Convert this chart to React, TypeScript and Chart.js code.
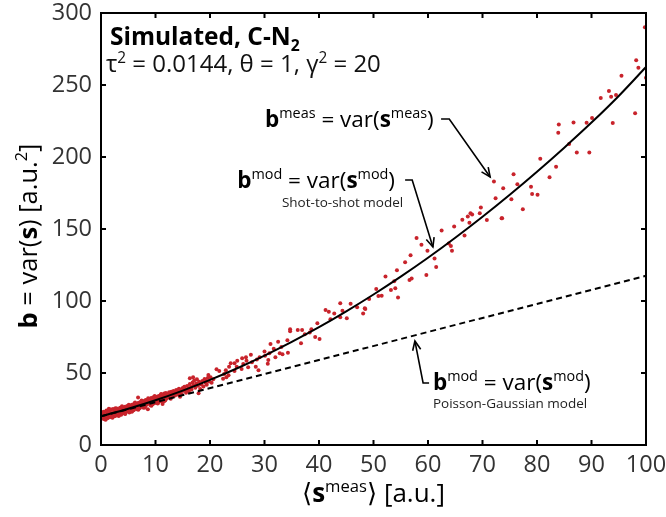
import React, { useEffect, useRef } from 'react';
import { Chart, registerables } from 'chart.js';

Chart.register(...registerables);

const FONT = '"Open Sans", "Noto Sans", "DejaVu Sans", sans-serif';
const RED = '#c8232b';

// tick labels
const xTickValues = [0, 10, 20, 30, 40, 50, 60, 70, 80, 90, 100];
const yTickValues = [0, 50, 100, 150, 200, 250, 300];

// measured points: <s_meas> and var(s_meas)
const meanMeas = [
  0.2, 0.3, 0.4, 0.5, 0.6, 0.7, 0.8, 0.9, 1.0, 1.1, 1.2, 1.3, 1.4, 1.5, 1.6, 1.7, 1.8, 1.9, 2.0, 2.1,
  2.2, 2.3, 2.4, 2.5, 2.6, 2.7, 2.8, 2.9, 3.0, 3.1, 3.2, 3.3, 3.4, 3.5, 3.6, 3.7, 3.8, 3.9, 4.0, 4.1,
  4.2, 4.3, 4.4, 4.5, 4.6, 4.7, 4.8, 4.9, 5.0, 5.2, 5.3, 5.4, 5.5, 5.6, 5.7, 5.8, 5.9, 6.0, 6.1, 6.2,
  6.3, 6.4, 6.5, 6.6, 6.7, 6.8, 6.9, 7.0, 7.1, 7.2, 7.3, 7.4, 7.5, 7.6, 7.7, 7.8, 7.9, 8.0, 8.1, 8.2,
  8.3, 8.4, 8.6, 8.7, 8.8, 8.9, 9.0, 9.1, 9.2, 9.3, 9.4, 9.5, 9.6, 9.7, 9.8, 9.9, 10.0, 10.2, 10.3, 10.4,
  10.5, 10.6, 10.7, 10.8, 10.9, 11.0, 11.1, 11.2, 11.3, 11.4, 11.5, 11.6, 11.7, 11.8, 11.9, 12.0, 12.1, 12.3, 12.4, 12.5,
  12.7, 12.8, 12.9, 13.0, 13.2, 13.3, 13.5, 13.6, 13.8, 13.9, 14.0, 14.2, 14.3, 14.5, 14.7, 14.8, 15.0, 15.1, 15.3, 15.5,
  15.6, 15.8, 16.0, 16.1, 16.3, 16.5, 16.6, 16.8, 17.0, 17.1, 17.3, 17.5, 17.6, 17.8, 18.0, 18.2, 18.4, 18.6, 18.8, 19.0,
  19.2, 19.4, 19.6, 19.8, 6.8, 11.3, 14.5, 16.3, 16.9, 17.9, 19.1, 19.7,
  0.35, 0.85, 1.45, 2.05, 2.65, 3.25, 3.85, 4.45, 5.1, 5.65, 6.25, 6.85, 7.45, 8.05, 8.65, 9.25, 9.85, 10.45, 11.05, 11.65,
  20.1, 20.3, 20.6, 21.2, 21.7, 22.4, 22.6, 22.9, 23.0, 23.4, 23.5, 23.8, 24.5, 24.5, 24.9, 25.0, 25.8, 25.9, 26.1, 26.6,
  26.7, 27.0, 27.5, 27.7, 28.4, 28.6, 28.9, 29.1, 30.0, 30.1, 30.6, 30.7, 30.9, 31.1, 31.7, 32.0, 32.5, 32.8, 33.1, 33.3,
  34.2, 34.3, 34.7, 34.7, 36.1, 36.7, 36.9, 37.4, 38.3, 38.6, 39.3, 39.7, 40.1, 41.2, 41.8, 42.1, 42.8, 43.9, 43.9, 44.3,
  45.1, 45.8, 47.0, 48.1, 48.5, 48.4, 49.2, 50.5, 50.9, 51.5, 52.2, 53.2, 53.8, 54.0, 54.3, 54.5, 55.8, 56.6, 56.8, 57.0,
  57.9, 58.8, 59.7, 59.9, 61.2, 61.5, 62.5, 63.8, 64.2, 64.4, 64.8, 66.3, 66.7, 67.3, 67.6, 67.8, 68.1, 69.5, 69.7, 70.8,
  72.1, 72.4, 73.5, 73.6, 73.8, 75.3, 75.7, 76.4, 77.4, 78.9, 79.1, 80.1, 80.6, 82.3, 83.5, 83.9, 84.0, 85.9, 86.7, 87.3,
  89.1, 89.6, 90.1, 91.7, 93.2, 93.6, 93.9, 94.5, 95.5, 98.0, 98.2, 98.6, 99.8, 100.0,
];
const varMeas = [
  19.5, 21.8, 18.2, 23.1, 20.4, 17.9, 22.5, 19.8, 24.0, 21.2, 18.6, 22.9, 20.1, 23.8, 19.3, 21.9, 24.6, 20.7, 22.3, 18.9,
  25.0, 21.4, 23.2, 19.9, 24.1, 22.0, 20.5, 25.4, 23.0, 21.3, 24.8, 20.6, 22.7, 25.9, 23.6, 21.0, 24.3, 26.2, 22.4, 25.1,
  23.7, 21.8, 26.5, 24.4, 22.9, 25.7, 27.0, 23.5, 25.3, 22.6, 26.8, 24.9, 27.6, 25.8, 23.4, 28.1, 26.0, 24.2, 27.3, 29.0,
  25.5, 26.9, 28.4, 24.8, 27.8, 26.1, 29.4, 27.2, 25.6, 28.8, 30.1, 26.7, 28.0, 29.7, 27.4, 25.9, 30.6, 28.6, 27.0, 31.2,
  29.3, 27.9, 24.8, 30.4, 32.0, 28.9, 30.9, 27.6, 32.6, 29.8, 31.5, 28.3, 33.1, 30.2, 31.8, 29.1, 32.4, 30.7, 33.5, 28.8,
  31.9, 34.0, 32.8, 30.3, 33.8, 35.0, 31.4, 33.0, 29.6, 34.6, 32.2, 35.7, 33.6, 31.0, 36.1, 34.3, 32.5, 35.3, 33.2, 36.6,
  34.8, 32.1, 37.0, 35.6, 33.9, 37.5, 36.0, 34.4, 38.2, 35.9, 37.2, 34.9, 39.0, 36.8, 38.5, 35.4, 39.6, 37.7, 40.4, 38.3,
  36.2, 41.0, 39.1, 37.4, 42.3, 40.2, 38.6, 43.4, 41.5, 44.8, 39.8, 42.7, 45.6, 41.1, 43.9, 38.9, 42.0, 44.5, 40.6, 45.8,
  43.2, 41.8, 46.5, 44.1, 33.0, 28.5, 33.5, 46.3, 47.0, 35.9, 45.1, 48.6,
  22.6, 17.6, 25.1, 19.4, 25.6, 20.2, 26.9, 21.5, 27.9, 23.1, 29.6, 24.5, 30.9, 26.0, 32.4, 27.3, 34.1, 29.2, 35.4, 30.6,
  47.0, 43.3, 45.6, 52.6, 51.4, 46.0, 49.3, 51.9, 47.0, 48.4, 54.4, 56.7, 56.7, 51.4, 54.4, 58.5, 52.8, 60.2, 56.3, 60.9,
  58.5, 54.0, 62.7, 57.4, 54.4, 59.3, 51.9, 60.9, 65.0, 62.0, 56.5, 59.0, 63.7, 70.1, 66.9, 60.9, 71.7, 63.7, 68.1, 63.0,
  72.7, 64.1, 80.3, 79.0, 79.9, 70.6, 79.9, 76.9, 78.2, 80.3, 75.0, 84.5, 73.6, 93.8, 92.6, 87.3, 91.4, 98.4, 88.7, 93.3,
  88.0, 98.1, 95.6, 91.4, 94.4, 94.9, 101.4, 108.3, 103.5, 103.7, 117.1, 107.6, 113.7, 108.8, 121.3, 102.5, 126.9, 114.6, 131.7, 115.7,
  143.8, 139.1, 118.0, 134.9, 129.6, 123.6, 149.0, 140.0, 138.2, 134.9, 151.8, 156.5, 145.4, 158.6, 154.4, 160.9, 160.0, 160.9, 165.0, 156.3,
  182.9, 171.3, 157.4, 157.4, 178.3, 170.6, 188.0, 181.0, 163.7, 179.4, 174.3, 173.8, 198.8, 185.9, 193.3, 216.9, 222.6, 209.0, 224.0, 203.2,
  223.8, 203.2, 227.0, 241.0, 245.8, 241.9, 223.6, 243.0, 256.5, 230.3, 267.2, 262.0, 290.1, 255.0,
];

// shot-to-shot model curve
const modelX = [0, 5, 10, 15, 20, 25, 30, 35, 40, 45, 50, 55, 60, 65, 70, 75, 80, 85, 90, 95, 100];
const shotModelY = [20.0, 25.2, 31.1, 37.8, 45.2, 53.3, 62.1, 71.6, 81.8, 92.8, 104.5, 116.9, 130.0, 143.9, 158.5, 173.8, 189.8, 206.5, 223.9, 242.4, 262.5];

// Poisson-Gaussian model line
const pgX = [0, 100];
const pgY = [20.0, 117.5];

type Seg = { t: string; b?: boolean; sup?: boolean; sub?: boolean };

function segFont(s: Seg, size: number) {
  const sz = s.sup || s.sub ? size * 0.64 : size;
  return `${s.b ? 'bold ' : ''}${sz}px ${FONT}`;
}

function drawRich(ctx: CanvasRenderingContext2D, segs: Seg[], x: number, y: number, size: number, align: 'left' | 'center', color: string) {
  ctx.save();
  ctx.textBaseline = 'alphabetic';
  ctx.textAlign = 'left';
  ctx.fillStyle = color;
  const widths = segs.map((s) => {
    ctx.font = segFont(s, size);
    return ctx.measureText(s.t).width;
  });
  const total = widths.reduce((a, b) => a + b, 0);
  let cx = align === 'center' ? x - total / 2 : x;
  segs.forEach((s, i) => {
    ctx.font = segFont(s, size);
    let dy = 0;
    if (s.sup) dy = -size * 0.38;
    if (s.sub) dy = size * 0.22;
    ctx.fillText(s.t, cx, y + dy);
    cx += widths[i];
  });
  ctx.restore();
}

function arrow(ctx: CanvasRenderingContext2D, pts: [number, number][]) {
  ctx.save();
  ctx.strokeStyle = '#000';
  ctx.lineWidth = 1.6;
  ctx.beginPath();
  pts.forEach((p, i) => (i === 0 ? ctx.moveTo(p[0], p[1]) : ctx.lineTo(p[0], p[1])));
  ctx.stroke();
  const [x1, y1] = pts[pts.length - 2];
  const [x2, y2] = pts[pts.length - 1];
  const a = Math.atan2(y2 - y1, x2 - x1);
  const L = 10;
  const w = 0.42;
  ctx.beginPath();
  ctx.moveTo(x2 - L * Math.cos(a - w), y2 - L * Math.sin(a - w));
  ctx.lineTo(x2, y2);
  ctx.lineTo(x2 - L * Math.cos(a + w), y2 - L * Math.sin(a + w));
  ctx.stroke();
  ctx.restore();
}

const decorPlugin = {
  id: 'decor',
  afterDraw(chart: any) {
    const ctx: CanvasRenderingContext2D = chart.ctx;
    const { left, right, top, bottom } = chart.chartArea;
    const xs = chart.scales.x;
    const ys = chart.scales.y;
    const X = (v: number) => xs.getPixelForValue(v);
    const Y = (v: number) => ys.getPixelForValue(v);

    // box and inward ticks
    ctx.save();
    ctx.strokeStyle = '#000';
    ctx.lineWidth = 2;
    ctx.strokeRect(left, top, right - left, bottom - top);
    const tl = 5;
    ctx.beginPath();
    xTickValues.forEach((v) => {
      const px = X(v);
      ctx.moveTo(px, bottom);
      ctx.lineTo(px, bottom - tl);
      ctx.moveTo(px, top);
      ctx.lineTo(px, top + tl);
    });
    yTickValues.forEach((v) => {
      const py = Y(v);
      ctx.moveTo(left, py);
      ctx.lineTo(left + tl, py);
      ctx.moveTo(right, py);
      ctx.lineTo(right - tl, py);
    });
    ctx.stroke();
    ctx.restore();

    // titles and annotations
    drawRich(ctx, [{ t: 'Simulated, C-N', b: true }, { t: '2', b: true, sub: true }], X(1.65), Y(277.5), 24.5, 'left', '#000');
    drawRich(ctx, [{ t: 'τ' }, { t: '2', sup: true }, { t: ' = 0.0144, θ = 1, γ' }, { t: '2', sup: true }, { t: ' = 20' }], X(0.9), Y(258.7), 24, 'left', '#111');

    drawRich(ctx, [{ t: 'b', b: true }, { t: 'meas', sup: true }, { t: ' = var(' }, { t: 's', b: true }, { t: 'meas', sup: true }, { t: ')' }], X(30.1), Y(220.8), 22.5, 'left', '#000');
    arrow(ctx, [[X(62.4), Y(226.4)], [X(63.9), Y(226.4)], [X(71.4), Y(186.1)]]);

    drawRich(ctx, [{ t: 'b', b: true }, { t: 'mod', sup: true }, { t: ' = var(' }, { t: 's', b: true }, { t: 'mod', sup: true }, { t: ')' }], X(25.0), Y(178.5), 22.5, 'left', '#000');
    drawRich(ctx, [{ t: 'Shot-to-shot model' }], X(33.2), Y(165.3), 13.5, 'left', '#222');
    arrow(ctx, [[X(55.8), Y(184)], [X(57.1), Y(184)], [X(60.9), Y(137.5)]]);

    drawRich(ctx, [{ t: 'b', b: true }, { t: 'mod', sup: true }, { t: ' = var(' }, { t: 's', b: true }, { t: 'mod', sup: true }, { t: ')' }], X(60.9), Y(38.2), 22.5, 'left', '#000');
    drawRich(ctx, [{ t: 'Poisson-Gaussian model' }], X(60.9), Y(25.7), 13.5, 'left', '#222');
    arrow(ctx, [[X(60.2), Y(43.1)], [X(59.1), Y(43.1)], [X(57.6), Y(72.2)]]);

    // axis titles
    drawRich(ctx, [{ t: '⟨' }, { t: 's', b: true }, { t: 'meas', sup: true }, { t: '⟩ [a.u.]' }], (left + right) / 2, 502, 26, 'center', '#000');
    ctx.save();
    ctx.translate(37, (top + bottom) / 2 + 7);
    ctx.rotate(-Math.PI / 2);
    drawRich(ctx, [{ t: 'b', b: true }, { t: ' = var(' }, { t: 's', b: true }, { t: ') [a.u.' }, { t: '2', sup: true }, { t: ']' }], 0, 0, 25.5, 'center', '#000');
    ctx.restore();
  },
};

export default function App() {
  const ref = useRef<HTMLCanvasElement | null>(null);
  useEffect(() => {
    if (!ref.current) return;
    const chart = new Chart(ref.current, {
      type: 'scatter',
      data: {
        datasets: [
          {
            type: 'line',
            label: 'shot-to-shot',
            data: modelX.map((x, i) => ({ x, y: shotModelY[i] })),
            borderColor: '#000',
            borderWidth: 2,
            pointRadius: 0,
            cubicInterpolationMode: 'monotone',
            order: 1,
          } as any,
          {
            type: 'line',
            label: 'poisson-gaussian',
            data: pgX.map((x, i) => ({ x, y: pgY[i] })),
            borderColor: '#000',
            borderWidth: 2,
            borderDash: [6, 4],
            pointRadius: 0,
            order: 1,
          } as any,
          {
            type: 'scatter',
            label: 'measured',
            data: meanMeas.map((x, i) => ({ x, y: varMeas[i] })),
            backgroundColor: RED,
            borderWidth: 0,
            pointRadius: 2,
            order: 2,
          },
        ],
      },
      options: {
        animation: false,
        responsive: false,
        layout: { padding: { top: 13, right: 20, left: 0, bottom: 0 } },
        plugins: { legend: { display: false }, tooltip: { enabled: false } },
        scales: {
          x: {
            type: 'linear',
            min: 0,
            max: 100,
            afterBuildTicks: (s: any) => {
              s.ticks = xTickValues.map((v) => ({ value: v }));
            },
            afterFit: (s: any) => {
              s.height = 72;
              s.paddingLeft = 0;
              s.paddingRight = 0;
            },
            grid: { display: false, drawTicks: false },
            border: { display: false },
            ticks: { font: { family: FONT, size: 23.5 }, color: '#333', padding: 6, maxRotation: 0 },
          },
          y: {
            type: 'linear',
            min: 0,
            max: 300,
            afterBuildTicks: (s: any) => {
              s.ticks = yTickValues.map((v) => ({ value: v }));
            },
            afterFit: (s: any) => {
              s.width = 101;
              s.paddingTop = 0;
              s.paddingBottom = 0;
            },
            grid: { display: false, drawTicks: false },
            border: { display: false },
            ticks: { font: { family: FONT, size: 23.5 }, color: '#333', padding: 9 },
          },
        },
      },
      plugins: [decorPlugin],
    });
    return () => chart.destroy();
  }, []);
  return (
    <div style={{ position: 'absolute', left: 0, top: 0, width: 666, height: 517, background: '#fff' }}>
      <canvas ref={ref} width={666} height={517} style={{ width: 666, height: 517 }} />
    </div>
  );
}
